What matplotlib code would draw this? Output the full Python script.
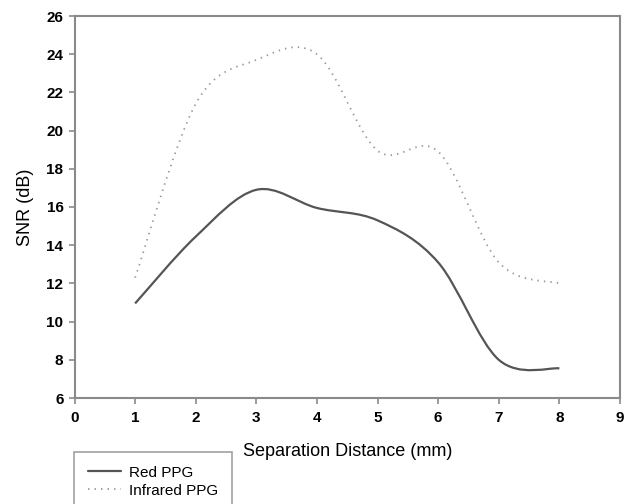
import matplotlib.pyplot as plt
import numpy as np
from matplotlib.path import Path
from matplotlib.patches import PathPatch
from matplotlib.lines import Line2D

plt.rcParams['font.family'] = ['Liberation Sans', 'DejaVu Sans']

## the data
distance = [1, 2, 3, 4, 5, 6, 7, 8]
red_ppg = [10.95, 14.45, 16.9, 15.95, 15.3, 13.1, 8.0, 7.55]
infrared_ppg = [12.3, 21.4, 23.7, 24.0, 18.95, 18.9, 13.1, 12.0]
x_ticks = list(range(0, 10))
y_ticks = list(range(6, 27, 2))


def smooth_path(xs, ys):
    # spreadsheet-style smoothed line: bezier segments through the points
    p = np.column_stack([xs, ys]).astype(float)
    p_ext = np.vstack([p[0], p, p[-1]])
    verts = [p[0]]
    codes = [Path.MOVETO]
    for i in range(len(p) - 1):
        p0, p1, p2, p3 = p_ext[i], p_ext[i + 1], p_ext[i + 2], p_ext[i + 3]
        verts += [p1 + (p2 - p0) / 6.0, p2 - (p3 - p1) / 6.0, p2]
        codes += [Path.CURVE4] * 3
    return Path(verts, codes)


fig = plt.figure(figsize=(6.33, 5.04), dpi=100)
ax = fig.add_axes([74.5 / 633, 1 - 398 / 504, (620 - 74.5) / 633, (398 - 16) / 504])

red_style = dict(color='#555555', lw=1.6, solid_capstyle='round')
ir_style = dict(color='#9a9a9a', lw=1.3, linestyle=(0, (0.8, 2.8)))

ax.add_patch(PathPatch(smooth_path(distance, red_ppg), fill=False,
                       edgecolor=red_style['color'], lw=red_style['lw']))
ax.add_patch(PathPatch(smooth_path(distance, infrared_ppg), fill=False,
                       edgecolor=ir_style['color'], lw=ir_style['lw'],
                       linestyle=ir_style['linestyle']))

ax.set_xlim(0, 9)
ax.set_ylim(6, 26)
ax.set_xticks(x_ticks)
ax.set_yticks(y_ticks)
for s in ax.spines.values():
    s.set_color('#8a8a8a')
    s.set_linewidth(1.5)
ax.tick_params(axis='both', direction='out', length=4.5, width=1.2,
               color='#8a8a8a', labelsize=11)
ax.tick_params(axis='x', pad=5)
for lab in ax.get_xticklabels() + ax.get_yticklabels():
    lab.set_fontweight('bold')

ax.set_xlabel('Separation Distance (mm)', fontsize=13, labelpad=13)
ax.set_ylabel('SNR (dB)', fontsize=13, labelpad=9)

handles = [Line2D([], [], **red_style), Line2D([], [], **ir_style)]
leg = fig.legend(handles, ['Red PPG', 'Infrared PPG'], loc='upper left',
                 bbox_to_anchor=(74 / 633, 1 - 452 / 504), borderaxespad=0,
                 fancybox=False, fontsize=11, handlelength=2.2,
                 handletextpad=0.5, labelspacing=0.25, borderpad=0.9,
                 frameon=True)
leg.get_frame().set_edgecolor('#8a8a8a')
leg.get_frame().set_linewidth(1.2)

fig.savefig('out.png', dpi=100)
